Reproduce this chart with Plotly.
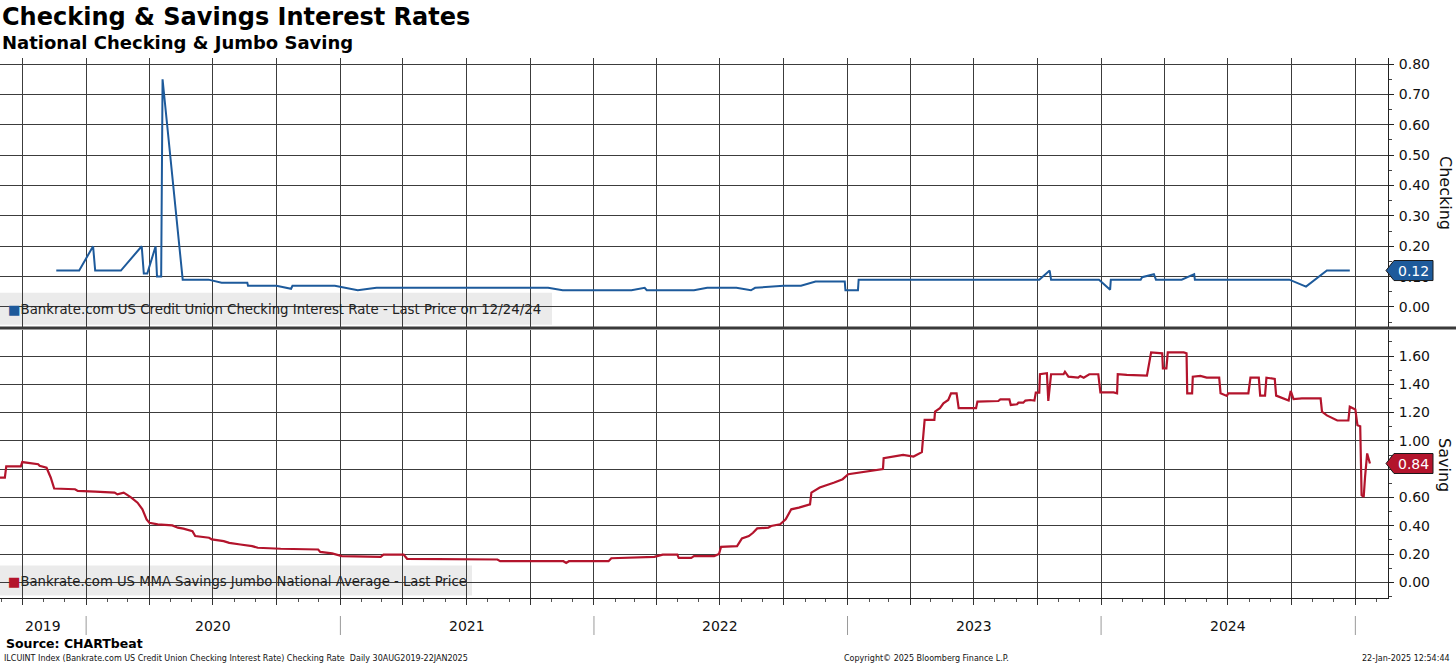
import plotly.graph_objects as go
import pandas as pd

# ---------------- data ----------------
ck_dates = ["2019-11-19", "2019-12-22", "2020-01-11", "2020-01-14", "2020-02-20", "2020-03-21",
            "2020-03-24", "2020-03-29", "2020-04-10", "2020-04-12", "2020-04-18", "2020-04-20",
            "2020-05-19", "2020-06-25", "2020-07-14", "2020-08-20", "2020-08-21", "2020-10-01",
            "2020-10-22", "2020-10-24", "2020-12-24", "2021-01-26", "2021-02-11", "2021-02-22",
            "2021-10-27", "2021-11-17", "2022-02-24", "2022-03-15", "2022-03-18", "2022-05-25",
            "2022-06-13", "2022-07-25", "2022-08-15", "2022-08-21", "2022-10-01", "2022-10-26",
            "2022-11-16", "2022-12-28", "2022-12-29", "2023-01-16", "2023-01-17", "2023-10-04",
            "2023-10-19", "2023-10-21", "2023-12-29", "2024-01-14", "2024-01-15", "2024-02-27",
            "2024-02-29", "2024-03-17", "2024-03-20", "2024-04-26", "2024-05-14", "2024-05-15",
            "2024-09-28", "2024-10-22", "2024-11-21", "2024-12-24"]
ck_vals = [0.12, 0.12, 0.20, 0.12, 0.12, 0.20,
           0.11, 0.11, 0.20, 0.10, 0.10, 0.75,
           0.09, 0.09, 0.08, 0.08, 0.07, 0.07,
           0.06, 0.07, 0.07, 0.055, 0.06, 0.063,
           0.063, 0.055, 0.055, 0.063, 0.055, 0.055,
           0.063, 0.063, 0.055, 0.063, 0.07, 0.07,
           0.084, 0.084, 0.055, 0.055, 0.09, 0.09,
           0.12, 0.09, 0.09, 0.057, 0.09, 0.09,
           0.098, 0.108, 0.09, 0.09, 0.108, 0.09,
           0.09, 0.067, 0.12, 0.12]

sv_dates = ["2019-08-30", "2019-09-06", "2019-09-08", "2019-09-29", "2019-10-01", "2019-10-11",
            "2019-10-24", "2019-10-26", "2019-11-05", "2019-11-11", "2019-11-16", "2019-12-16",
            "2019-12-20", "2020-01-14", "2020-02-11", "2020-02-15", "2020-02-24", "2020-02-28",
            "2020-03-06", "2020-03-15", "2020-03-22", "2020-03-28", "2020-04-01", "2020-04-13",
            "2020-05-04", "2020-05-12", "2020-05-20", "2020-06-02", "2020-06-06", "2020-06-26",
            "2020-06-30", "2020-07-17", "2020-07-25", "2020-08-10", "2020-08-27", "2020-09-04",
            "2020-10-07", "2020-11-30", "2020-12-03", "2020-12-20", "2021-01-03", "2021-02-28",
            "2021-03-04", "2021-04-02", "2021-04-07", "2021-08-15", "2021-08-19", "2021-11-18",
            "2021-11-22", "2021-11-26", "2022-01-22", "2022-01-26", "2022-03-29", "2022-04-10",
            "2022-05-01", "2022-05-03", "2022-05-21", "2022-05-25", "2022-06-23", "2022-06-30",
            "2022-07-03", "2022-07-26", "2022-08-02", "2022-08-12", "2022-08-18", "2022-08-24",
            "2022-09-09", "2022-09-13", "2022-09-26", "2022-10-04", "2022-10-12", "2022-10-23",
            "2022-11-08", "2022-11-10", "2022-11-22", "2022-12-13", "2022-12-25", "2023-01-02",
            "2023-02-08", "2023-02-21", "2023-02-22", "2023-03-08", "2023-03-22", "2023-04-06",
            "2023-04-18", "2023-04-22", "2023-05-06", "2023-05-07", "2023-05-14", "2023-05-19",
            "2023-05-26", "2023-05-30", "2023-06-07", "2023-06-10", "2023-07-05", "2023-07-07",
            "2023-08-06", "2023-08-09", "2023-08-22", "2023-08-24", "2023-09-02", "2023-09-04",
            "2023-09-11", "2023-09-14", "2023-09-21", "2023-09-27", "2023-09-29", "2023-10-04",
            "2023-10-05", "2023-10-15", "2023-10-17", "2023-10-21", "2023-11-08", "2023-11-10",
            "2023-11-15", "2023-11-29", "2023-12-02", "2023-12-07", "2023-12-15", "2023-12-28",
            "2023-12-31", "2024-01-19", "2024-01-24", "2024-01-25", "2024-02-07", "2024-03-07",
            "2024-03-13", "2024-03-29", "2024-03-30", "2024-04-04", "2024-04-06", "2024-04-29",
            "2024-05-03", "2024-05-04", "2024-05-11", "2024-05-12", "2024-05-23", "2024-06-01",
            "2024-06-19", "2024-06-21", "2024-06-30", "2024-07-02", "2024-07-31", "2024-08-03",
            "2024-08-15", "2024-08-17", "2024-08-24", "2024-08-26", "2024-09-07", "2024-09-09",
            "2024-09-15", "2024-09-27", "2024-09-30", "2024-10-04", "2024-10-16", "2024-11-12",
            "2024-11-14", "2024-11-21", "2024-12-06", "2024-12-22", "2024-12-24", "2025-01-01",
            "2025-01-04", "2025-01-08", "2025-01-10", "2025-01-13", "2025-01-15", "2025-01-18",
            "2025-01-22"]
sv_vals = [0.74, 0.74, 0.82, 0.82, 0.85, 0.845,
           0.835, 0.824, 0.81, 0.741, 0.663, 0.658,
           0.646, 0.641, 0.634, 0.622, 0.634, 0.622,
           0.599, 0.563, 0.516, 0.445, 0.421, 0.409,
           0.402, 0.386, 0.379, 0.362, 0.327, 0.315,
           0.303, 0.291, 0.279, 0.267, 0.256, 0.244,
           0.237, 0.232, 0.215, 0.204, 0.185, 0.18,
           0.196, 0.196, 0.166, 0.161, 0.149, 0.149,
           0.137, 0.149, 0.149, 0.17, 0.18, 0.196,
           0.196, 0.173, 0.173, 0.185, 0.185, 0.20,
           0.251, 0.256, 0.31, 0.327, 0.35, 0.381,
           0.386, 0.398, 0.41, 0.445, 0.516, 0.528,
           0.551, 0.634, 0.67, 0.705, 0.729, 0.764,
           0.788, 0.80, 0.878, 0.889, 0.901, 0.889,
           0.92, 1.148, 1.148, 1.207, 1.231, 1.266,
           1.289, 1.336, 1.336, 1.231, 1.231, 1.278,
           1.282, 1.294, 1.294, 1.254, 1.259, 1.27,
           1.27, 1.285, 1.289, 1.285, 1.341, 1.341,
           1.471, 1.478, 1.282, 1.471, 1.471, 1.489,
           1.454, 1.447, 1.459, 1.447, 1.471, 1.471,
           1.343, 1.343, 1.336, 1.471, 1.466, 1.461,
           1.626, 1.619, 1.513, 1.513, 1.626, 1.626,
           1.619, 1.336, 1.336, 1.454, 1.459, 1.447,
           1.447, 1.336, 1.318, 1.336, 1.336, 1.447,
           1.447, 1.32, 1.32, 1.447, 1.438, 1.32,
           1.308, 1.285, 1.353, 1.296, 1.301, 1.301,
           1.207, 1.18, 1.144, 1.144, 1.241, 1.222,
           1.111, 1.104, 0.616, 0.604, 0.746, 0.911,
           0.84]

year_labels = ["2019", "2020", "2021", "2022", "2023", "2024"]
x_range = ["2019-08-30", "2025-02-17"]
ck_last_label = "0.12"
sv_last_label = "0.84"

title = "Checking & Savings Interest Rates"
subtitle = "National Checking & Jumbo Saving"
ck_legend = "Bankrate.com US Credit Union Checking Interest Rate - Last Price on 12/24/24"
sv_legend = "Bankrate.com US MMA Savings Jumbo National Average - Last Price"
source = "Source: CHARTbeat"
footer_left = "ILCUINT Index (Bankrate.com US Credit Union Checking Interest Rate) Checking Rate  Daily 30AUG2019-22JAN2025"
footer_mid = "Copyright\u00a9 2025 Bloomberg Finance L.P."
footer_right = "22-Jan-2025 12:54:44"

# ---------------- styling ----------------
W, H = 1456, 665
PLOT_RIGHT = 1388
BLUE = "#1d5a9b"
RED = "#b3142c"
GRID = "#3c3c3c"
FONT = "DejaVu Sans"


def py(px):  # pixel row -> paper y
    return 1 - px / H


def pxx(px):  # pixel column -> paper x
    return px / PLOT_RIGHT


top_dom = [py(327), py(58)]
bot_dom = [py(597.7), py(330)]

fig = go.Figure()
fig.add_trace(go.Scatter(x=ck_dates, y=ck_vals, mode="lines", xaxis="x", yaxis="y",
                         line=dict(color=BLUE, width=2), hoverinfo="skip"))
fig.add_trace(go.Scatter(x=sv_dates, y=sv_vals, mode="lines", xaxis="x2", yaxis="y2",
                         line=dict(color=RED, width=2.2), hoverinfo="skip"))

xcommon = dict(type="date", range=x_range, tickmode="linear", tick0="2019-10-01", dtick="M3",
               showgrid=True, gridcolor=GRID, gridwidth=1, showticklabels=False, zeroline=False,
               domain=[0, 1])
ycommon = dict(side="right", showgrid=True, gridcolor=GRID, gridwidth=1, zeroline=False,
               ticks="outside", ticklen=5, tickcolor="#222", showline=True, linecolor="#222",
               linewidth=1, tickformat=".2f", tickfont=dict(family=FONT, size=14, color="#111"),
               ticklabelstandoff=2, fixedrange=True)

fig.update_layout(
    width=W, height=H,
    margin=dict(l=0, r=W - PLOT_RIGHT, t=0, b=0, autoexpand=False),
    paper_bgcolor="white", plot_bgcolor="white",
    showlegend=False,
    font=dict(family=FONT, color="#111"),
    xaxis=dict(**xcommon, anchor="y", ticks=""),
    xaxis2=dict(**xcommon, anchor="y2", matches="x", ticks="outside", ticklen=6, tickcolor="#333",
                showline=True, linecolor="#222", linewidth=1,
                minor=dict(dtick="M1", tick0="2019-09-01", ticks="outside", ticklen=3,
                           tickcolor="#555", showgrid=False)),
    yaxis=dict(**ycommon, domain=top_dom, anchor="x", range=[-0.066, 0.82], dtick=0.1, tick0=0,
               minor=dict(dtick=0.05, ticks="outside", ticklen=3, tickcolor="#444", showgrid=False)),
    yaxis2=dict(**ycommon, domain=bot_dom, anchor="x2", range=[-0.109, 1.784], dtick=0.2, tick0=0,
                minor=dict(dtick=0.1, ticks="outside", ticklen=3, tickcolor="#444", showgrid=False)),
)

shapes = []
annotations = []

# legend boxes
shapes.append(dict(type="rect", xref="x domain", yref="y domain", x0=0, x1=pxx(552), y0=0.008, y1=0.127,
                   fillcolor="#ebebeb", line=dict(width=0), layer="below"))
shapes.append(dict(type="rect", xref="x2 domain", yref="y2 domain", x0=0, x1=pxx(472), y0=0.008, y1=0.12,
                   fillcolor="#ebebeb", line=dict(width=0), layer="below"))
annotations.append(dict(xref="x domain", yref="y domain", x=pxx(6), y=0.066, xanchor="left", yanchor="middle",
                        showarrow=False,
                        text=f"<span style='color:{BLUE}'>■</span>{ck_legend}",
                        font=dict(family=FONT, size=13.3, color="#222")))
annotations.append(dict(xref="x2 domain", yref="y2 domain", x=pxx(6), y=0.06, xanchor="left", yanchor="middle",
                        showarrow=False,
                        text=f"<span style='color:{RED}'>■</span>{sv_legend}",
                        font=dict(family=FONT, size=13.2, color="#222")))

# separator between panels
shapes.append(dict(type="line", xref="paper", yref="paper", x0=0, x1=W / PLOT_RIGHT, y0=py(328), y1=py(328),
                   line=dict(color="#3a3a3a", width=3)))

# last-value tags
for yref, val, txt, col, half in [("y", ck_vals[-1], ck_last_label, BLUE, 0.033),
                                  ("y2", sv_vals[-1], sv_last_label, RED, 0.0707)]:
    path = (f"M {pxx(1386)} {val} L {pxx(1394)} {val + half} L {pxx(1433)} {val + half} "
            f"L {pxx(1433)} {val - half} L {pxx(1394)} {val - half} Z")
    shapes.append(dict(type="path", xref="paper", yref=yref, path=path, fillcolor=col,
                       line=dict(color="#1a1a1a", width=1), layer="above"))
    annotations.append(dict(xref="paper", yref=yref, x=pxx(1413.5), y=val, showarrow=False,
                            text=txt, font=dict(family=FONT, size=14, color="white"),
                            xanchor="center", yanchor="middle"))

# axis titles
annotations.append(dict(xref="paper", yref="paper", x=pxx(1445), y=py(193), text="Checking", textangle=90,
                        xanchor="center", yanchor="middle",
                        showarrow=False, font=dict(family=FONT, size=16, color="#111")))
annotations.append(dict(xref="paper", yref="paper", x=pxx(1445), y=py(465), text="Saving", textangle=90,
                        xanchor="center", yanchor="middle",
                        showarrow=False, font=dict(family=FONT, size=16, color="#111")))

# year labels and separators
r0, r1 = pd.Timestamp(x_range[0]), pd.Timestamp(x_range[1])
for yl in year_labels:
    s = max(pd.Timestamp(f"{yl}-01-01"), r0)
    e = min(pd.Timestamp(f"{int(yl) + 1}-01-01"), r1)
    mid = s + (e - s) / 2
    annotations.append(dict(xref="x2", yref="paper", x=mid.strftime("%Y-%m-%d"), y=py(626), text=yl,
                            showarrow=False, font=dict(family=FONT, size=14, color="#111"),
                            xanchor="center", yanchor="middle"))
    b = f"{int(yl) + 1}-01-01"
    shapes.append(dict(type="line", xref="x2", yref="paper", x0=b, x1=b, y0=py(616), y1=py(635),
                       line=dict(color="#9a9a9a", width=1)))

# titles
annotations.append(dict(xref="paper", yref="paper", x=0, y=py(17), text=f"<b>{title}</b>", showarrow=False,
                        xanchor="left", yanchor="middle", font=dict(family=FONT, size=24, color="#000")))
annotations.append(dict(xref="paper", yref="paper", x=0, y=py(43), text=f"<b>{subtitle}</b>", showarrow=False,
                        xanchor="left", yanchor="middle", font=dict(family=FONT, size=18, color="#000")))
# footer
annotations.append(dict(xref="paper", yref="paper", x=pxx(4), y=py(643), text=f"<b>{source}</b>",
                        showarrow=False, xanchor="left", yanchor="middle",
                        font=dict(family=FONT, size=12.5, color="#000")))
annotations.append(dict(xref="paper", yref="paper", x=pxx(2), y=py(658), text=footer_left,
                        showarrow=False, xanchor="left", yanchor="middle",
                        font=dict(family=FONT, size=8, color="#111")))
annotations.append(dict(xref="paper", yref="paper", x=pxx(926), y=py(658), text=footer_mid,
                        showarrow=False, xanchor="center", yanchor="middle",
                        font=dict(family=FONT, size=8, color="#111")))
annotations.append(dict(xref="paper", yref="paper", x=pxx(1452), y=py(658), text=footer_right,
                        showarrow=False, xanchor="right", yanchor="middle",
                        font=dict(family=FONT, size=8, color="#111")))

fig.update_layout(shapes=shapes, annotations=annotations)
fig.write_html("out.html", config={"displayModeBar": False},
               post_script="document.body.style.margin='0px';document.body.style.overflow='hidden';")
